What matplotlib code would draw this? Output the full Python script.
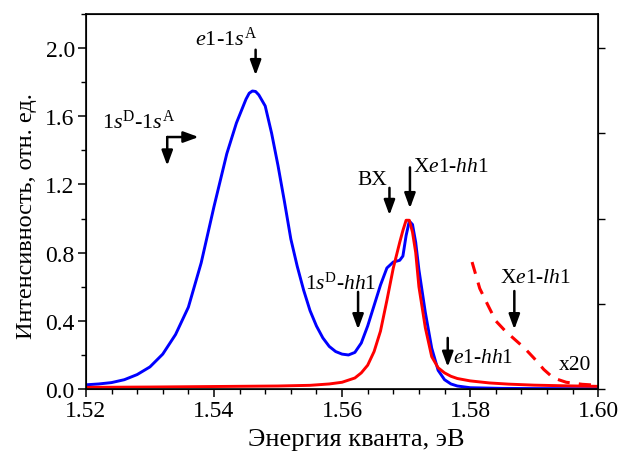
import matplotlib
matplotlib.use('Agg')
import matplotlib.pyplot as plt
from matplotlib.ticker import MultipleLocator

plt.rcParams['font.family'] = ['Liberation Serif', 'DejaVu Serif']
plt.rcParams['mathtext.fontset'] = 'custom'
plt.rcParams['mathtext.rm'] = 'Liberation Serif'
plt.rcParams['mathtext.it'] = 'Liberation Serif:italic'

# Blue spectrum
blue_e = [1.520, 1.522, 1.524, 1.526, 1.528, 1.530, 1.532, 1.534, 1.536, 1.538,
          1.540, 1.542, 1.5435, 1.545, 1.5455, 1.546, 1.5465, 1.547, 1.548, 1.549,
          1.550, 1.551, 1.552, 1.553, 1.554, 1.555, 1.556, 1.557, 1.558, 1.559,
          1.560, 1.561, 1.562, 1.563, 1.564, 1.565, 1.566, 1.567, 1.568, 1.569,
          1.5695, 1.570, 1.5705, 1.571, 1.5715, 1.572, 1.573, 1.574, 1.575, 1.576,
          1.577, 1.578, 1.580, 1.585, 1.590, 1.600]
blue_i = [0.025, 0.030, 0.038, 0.055, 0.085, 0.130, 0.205, 0.32, 0.48, 0.74,
          1.07, 1.38, 1.56, 1.70, 1.735, 1.748, 1.745, 1.725, 1.66, 1.50,
          1.31, 1.10, 0.88, 0.72, 0.58, 0.46, 0.37, 0.30, 0.25, 0.22,
          0.205, 0.200, 0.215, 0.27, 0.37, 0.49, 0.61, 0.71, 0.745, 0.755,
          0.78, 0.90, 0.985, 0.965, 0.86, 0.70, 0.45, 0.24, 0.11, 0.055,
          0.03, 0.018, 0.008, 0.004, 0.003, 0.002]

# Red spectrum
red_e = [1.520, 1.530, 1.540, 1.550, 1.555, 1.558, 1.560, 1.562, 1.563, 1.564,
         1.565, 1.566, 1.567, 1.568, 1.569, 1.5695, 1.570, 1.5705, 1.571, 1.5715,
         1.572, 1.573, 1.574, 1.575, 1.576, 1.577, 1.578, 1.580, 1.583, 1.586,
         1.590, 1.595, 1.600]
red_i = [0.010, 0.012, 0.015, 0.018, 0.022, 0.030, 0.040, 0.065, 0.095, 0.14,
         0.22, 0.34, 0.52, 0.71, 0.86, 0.93, 0.99, 0.99, 0.92, 0.80,
         0.60, 0.36, 0.19, 0.125, 0.095, 0.075, 0.062, 0.048, 0.036, 0.029,
         0.023, 0.019, 0.016]

# Red tail x20
tail_e = [1.5803, 1.5815, 1.5828, 1.584, 1.5855, 1.587, 1.5885, 1.590, 1.5915,
          1.593, 1.595, 1.5975, 1.600]
tail_i = [0.745, 0.59, 0.49, 0.40, 0.34, 0.29, 0.24, 0.18, 0.115,
          0.065, 0.04, 0.028, 0.022]

fig = plt.figure(figsize=(6.18, 4.52), dpi=100)
ax = fig.add_axes([0.139, 0.137, 0.829, 0.830])

ax.plot(blue_e, blue_i, color='#0000ff', lw=2.1)
ax.plot(red_e, red_i, color='#ff0000', lw=2.1)
ax.plot(tail_e, tail_i, color='#ff0000', lw=2.2, linestyle=(0, (4, 3)))

ax.set_xlim(1.52, 1.60)
ax.set_ylim(0, 2.2)
ax.xaxis.set_major_locator(MultipleLocator(0.02))
ax.xaxis.set_minor_locator(MultipleLocator(0.004))
ax.yaxis.set_major_locator(MultipleLocator(0.4))
ax.yaxis.set_minor_locator(MultipleLocator(0.2))
ax.xaxis.set_major_formatter(plt.FormatStrFormatter('%.2f'))
ax.yaxis.set_major_formatter(plt.FormatStrFormatter('%.1f'))
ax.tick_params(which='major', direction='out', length=6, width=1.1, labelsize=17, pad=2)
ax.tick_params(which='minor', direction='out', length=3.5, width=1.0)
ax.tick_params(top=False, right=False)
for s in ax.spines.values():
    s.set_linewidth(1.2)

ax2 = ax.twinx()
ax2.set_ylim(0, 2.2)
ax2.yaxis.set_major_locator(MultipleLocator(0.5))
ax2.tick_params(direction='out', length=5, width=1.0, labelright=False)

ax.set_xlabel('Энергия кванта, эВ', fontsize=19)
ax.xaxis.set_label_coords(0.527, -0.105)
ax.set_ylabel('Интенсивность, отн. ед.', fontsize=17.5)
ax.yaxis.set_label_coords(-0.095, 0.464)

arr = dict(arrowstyle='-|>,head_length=0.6,head_width=0.22', color='k', lw=1.8,
           mutation_scale=15, shrinkA=0, shrinkB=0)

def arrow(x, y0, y1):
    ax.annotate('', xy=(x, y1), xytext=(x, y0), arrowprops=arr)

fs = 15.5
# e1-1sA
ax.text(1.5419, 2.02, r'$e$1-1$s^{\mathrm{A}}$', fontsize=16, ha='center', va='baseline')
arrow(1.5465, 1.99, 1.84)
# 1sD-1sA bent arrow
ax.text(1.5225, 1.53, r'1$s^{\mathrm{D}}$-1$s^{\mathrm{A}}$', fontsize=16, va='baseline')
ax.annotate('', xy=(1.5376, 1.478), xytext=(1.5327, 1.478), arrowprops=arr)
ax.annotate('', xy=(1.5327, 1.31), xytext=(1.5327, 1.478), arrowprops=arr)
# BX
ax.text(1.5647, 1.20, 'BX', fontsize=fs, ha='center', va='baseline')
arrow(1.5674, 1.18, 1.02)
# Xe1-hh1
ax.text(1.5711, 1.28, r'X$e$1-$hh$1', fontsize=fs, va='baseline')
arrow(1.5706, 1.30, 1.06)
# 1sD-hh1
ax.text(1.5542, 0.59, r'1$s^{\mathrm{D}}$-$hh$1', fontsize=fs, va='baseline')
arrow(1.5625, 0.57, 0.35)
# e1-hh1
ax.text(1.5773, 0.16, r'$e$1-$hh$1', fontsize=fs, va='baseline')
arrow(1.5765, 0.30, 0.13)
# Xe1-lh1
ax.text(1.5847, 0.63, r'X$e$1-$lh$1', fontsize=fs, va='baseline')
arrow(1.5869, 0.575, 0.35)
# x20
ax.text(1.5964, 0.117, 'x20', fontsize=fs, ha='center', va='baseline')

fig.savefig('out.png', dpi=100)
